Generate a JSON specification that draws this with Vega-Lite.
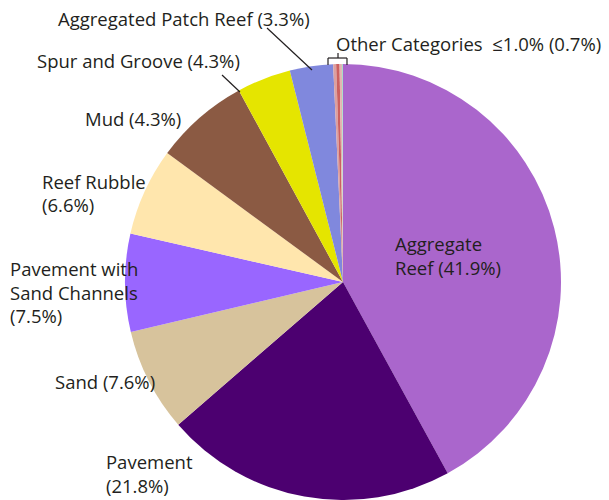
{
  "$schema": "https://vega.github.io/schema/vega-lite/v6.json",
  "width": 609,
  "height": 500,
  "autosize": {"type": "none"},
  "padding": 0,
  "background": "white",
  "view": {"stroke": null},
  "datasets": {
    "slices": [
      {"k": 1, "name": "Aggregate Reef", "share": 42.0},
      {"k": 2, "name": "Pavement", "share": 21.6},
      {"k": 3, "name": "Sand", "share": 7.67},
      {"k": 4, "name": "Pavement with Sand Channels", "share": 7.25},
      {"k": 5, "name": "Reef Rubble", "share": 6.5},
      {"k": 6, "name": "Mud", "share": 7.0},
      {"k": 7, "name": "Spur and Groove", "share": 4.0},
      {"k": 8, "name": "Aggregated Patch Reef", "share": 3.2},
      {"k": 9, "name": "Other A", "share": 0.22},
      {"k": 10, "name": "Other B", "share": 0.25},
      {"k": 11, "name": "Other C", "share": 0.17},
      {"k": 12, "name": "Other D", "share": 0.08}
    ],
    "labels": [
      {"text": "Aggregated Patch Reef (3.3%)", "x": -1.3073, "y": 1.2018},
      {"text": "Spur and Groove (4.3%)", "x": -1.4037, "y": 1.0092},
      {"text": "Mud (4.3%)", "x": -1.1835, "y": 0.7431},
      {"text": "Reef Rubble\n(6.6%)", "x": -1.3807, "y": 0.456},
      {"text": "Pavement with\nSand Channels\n(7.5%)", "x": -1.5275, "y": 0.055},
      {"text": "Sand (7.6%)", "x": -1.3211, "y": -0.4633},
      {"text": "Pavement\n(21.8%)", "x": -1.0872, "y": -0.8303},
      {"text": "Aggregate\nReef (41.9%)", "x": 0.2385, "y": 0.1697},
      {"text": "Other Categories \u00a0≤1.0% (0.7%)", "x": -0.0321, "y": 1.0872}
    ],
    "leaders": [
      {"x": -0.3486, "y": 1.1651, "x2": -0.1422, "y2": 0.9725},
      {"x": -0.555, "y": 0.9495, "x2": -0.4725, "y2": 0.8716},
      {"x": -0.0688, "y": 1.0275, "x2": 0.0183, "y2": 1.0275},
      {"x": -0.0688, "y": 1.0275, "x2": -0.0688, "y2": 0.9954},
      {"x": 0.0183, "y": 1.0275, "x2": 0.0183, "y2": 0.9954},
      {"x": -0.0229, "y": 1.0275, "x2": -0.0229, "y2": 1.0505}
    ]
  },
  "layer": [
    {
      "data": {"name": "slices"},
      "mark": {"type": "arc", "outerRadius": 218},
      "encoding": {
        "x": {"datum": 0, "type": "quantitative", "scale": {"domain": [-1.5734, 1.2202], "nice": false, "zero": false}, "axis": null},
        "y": {"datum": 0, "type": "quantitative", "scale": {"domain": [-1.0, 1.2936], "nice": false, "zero": false}, "axis": null},
        "theta": {"field": "share", "type": "quantitative", "stack": true},
        "order": {"field": "k", "type": "quantitative"},
        "color": {
          "field": "name", "type": "nominal", "legend": null,
          "scale": {
            "domain": ["Aggregate Reef", "Pavement", "Sand", "Pavement with Sand Channels", "Reef Rubble", "Mud", "Spur and Groove", "Aggregated Patch Reef", "Other A", "Other B", "Other C", "Other D"],
            "range": ["#aa66cc", "#4c0070", "#d7c39c", "#9966ff", "#ffe6ad", "#8b5a43", "#e5e500", "#8088dd", "#dca0a0", "#cc6060", "#e4b4b0", "#a8dcc8"]
          }
        }
      }
    },
    {
      "data": {"name": "leaders"},
      "mark": {"type": "rule", "color": "#231f20", "strokeWidth": 1.2},
      "encoding": {
        "x": {"field": "x", "type": "quantitative"},
        "y": {"field": "y", "type": "quantitative"},
        "x2": {"field": "x2"},
        "y2": {"field": "y2"}
      }
    },
    {
      "data": {"name": "labels"},
      "mark": {"type": "text", "align": "left", "baseline": "middle", "lineBreak": "\n", "lineHeight": 23.5, "font": "Open Sans", "fontSize": 18.5, "color": "#231f20"},
      "encoding": {
        "x": {"field": "x", "type": "quantitative"},
        "y": {"field": "y", "type": "quantitative"},
        "text": {"field": "text"}
      }
    }
  ]
}
